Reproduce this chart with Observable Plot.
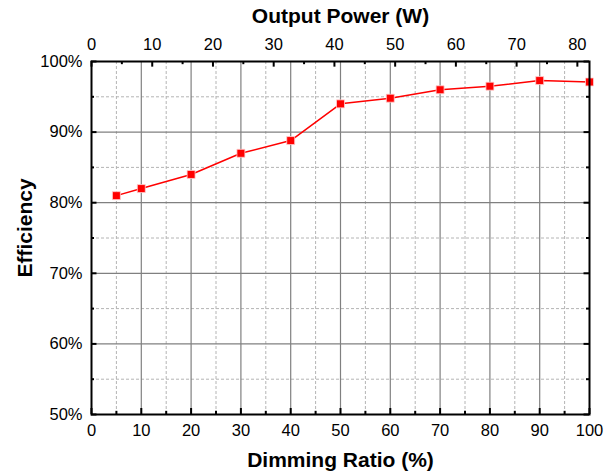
<!DOCTYPE html>
<html>
<head>
<meta charset="utf-8">
<script src="https://cdn.jsdelivr.net/npm/d3@7"></script>
<script src="https://cdn.jsdelivr.net/npm/@observablehq/plot@0.6"></script>
<style>
  html, body { margin: 0; padding: 0; background: #fff; }
  svg { display: block; }
</style>
</head>
<body>
<div id="chart"></div>
<script>
// Data
const dimming = [5, 10, 20, 30, 40, 50, 60, 70, 80, 90, 100];
const efficiency = [81.0, 82.0, 84.0, 87.0, 88.8, 94.0, 94.8, 96.0, 96.5, 97.3, 97.1];
const xTicks = [0, 10, 20, 30, 40, 50, 60, 70, 80, 90, 100];
const xMinor = [5, 15, 25, 35, 45, 55, 65, 75, 85, 95];
const yTicks = [50, 60, 70, 80, 90, 100];
const yMinor = [55, 65, 75, 85, 95];
const powerMax = 82; // output power (W) at 100% dimming
const powerTicks = [0, 10, 20, 30, 40, 50, 60, 70, 80];
const powerMinor = [5, 15, 25, 35, 45, 55, 65, 75];

const data = dimming.map((d, i) => ({x: d, y: efficiency[i]}));
const toX = p => p * 100 / powerMax;
const gridX = xTicks.filter(d => d > 0 && d < 100);
const gridY = yTicks.filter(d => d > 50 && d < 100);

const font = "'Liberation Sans', Arial, Helvetica, sans-serif";

const chart = Plot.plot({
  width: 614,
  height: 474,
  marginLeft: 91,
  marginRight: 25,
  marginTop: 61,
  marginBottom: 60,
  style: {fontFamily: font, fontSize: "16.5px", color: "#000", background: "#fff"},
  x: {domain: [0, 100]},
  y: {domain: [50, 100]},
  marks: [
    // minor dashed grid
    Plot.ruleX(xMinor, {stroke: "#b4b4b4", strokeWidth: 1, strokeDasharray: "3,2"}),
    Plot.ruleY(yMinor, {stroke: "#b4b4b4", strokeWidth: 1, strokeDasharray: "3,2"}),
    // major solid grid
    Plot.ruleX(gridX, {stroke: "#808080", strokeWidth: 1.2}),
    Plot.ruleY(gridY, {stroke: "#808080", strokeWidth: 1.2}),
    // series
    Plot.line(data, {x: "x", y: "y", stroke: "#ff0000", strokeWidth: 1.5}),
    Plot.dot(data, {x: "x", y: "y", symbol: "square", r: 4.5, fill: "#ff0000", stroke: "#ffd0d0", strokeWidth: 0.8}),
    // inward ticks: bottom
    Plot.ruleX(xTicks, {y1: 50, y2: 50.85, stroke: "#000", strokeWidth: 2}),
    Plot.ruleX(xMinor, {y1: 50, y2: 50.45, stroke: "#000", strokeWidth: 2}),
    // top (output power)
    Plot.ruleX(powerTicks, {x: toX, y1: 100, y2: 99.2, stroke: "#000", strokeWidth: 2}),
    Plot.ruleX(powerMinor, {x: toX, y1: 100, y2: 99.55, stroke: "#000", strokeWidth: 2}),
    // left
    Plot.ruleY(yTicks, {x1: 0, x2: 1.1, stroke: "#000", strokeWidth: 2}),
    Plot.ruleY(yMinor, {x1: 0, x2: 0.6, stroke: "#000", strokeWidth: 2}),
    // right
    Plot.ruleY(yTicks, {x1: 100, x2: 98.9, stroke: "#000", strokeWidth: 2}),
    Plot.ruleY(yMinor, {x1: 100, x2: 99.4, stroke: "#000", strokeWidth: 2}),
    Plot.frame({stroke: "#000", strokeWidth: 2}),
    // axes labels
    Plot.axisX({anchor: "bottom", ticks: xTicks, tickSize: 0, tickPadding: 10, label: null, fill: "#000"}),
    Plot.axisY({anchor: "left", ticks: yTicks, tickSize: 0, tickPadding: 9, label: null, tickFormat: d => d + "%", fill: "#000"}),
    Plot.text(powerTicks, {x: toX, frameAnchor: "top", lineAnchor: "bottom", dy: -12, text: d => String(d), fill: "#000"}),
    // titles
    Plot.text(["Dimming Ratio (%)"], {frameAnchor: "bottom", lineAnchor: "middle", dy: 46, fontSize: 21, fontWeight: "bold", fill: "#000"}),
    Plot.text(["Output Power (W)"], {frameAnchor: "top", lineAnchor: "middle", dy: -45, fontSize: 21, fontWeight: "bold", fill: "#000"}),
    Plot.text(["Efficiency"], {frameAnchor: "left", textAnchor: "middle", lineAnchor: "middle", dx: -66, dy: -10, rotate: -90, fontSize: 21, fontWeight: "bold", fill: "#000"})
  ]
});
document.getElementById("chart").appendChild(chart);
</script>
</body>
</html>
